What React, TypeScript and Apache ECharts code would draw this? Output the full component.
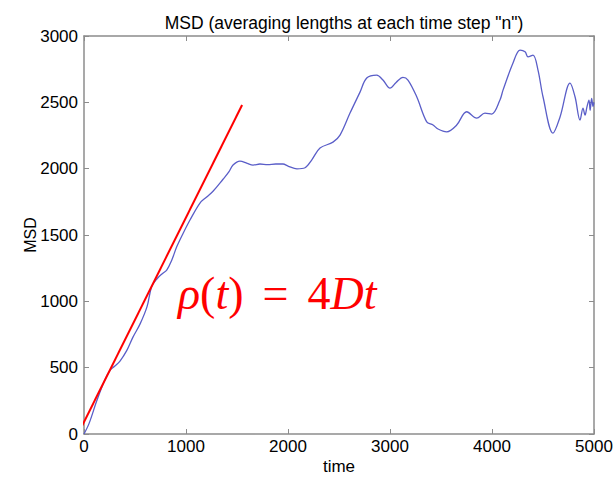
import React, { useEffect, useRef } from "react";
import * as echarts from "echarts";

const titleText = 'MSD (averaging lengths at each time step "n")';
const xTicks = [0, 1000, 2000, 3000, 4000, 5000];
const yTicks = [0, 500, 1000, 1500, 2000, 2500, 3000];

const msdTime = [
  0, 50, 125, 200, 255, 300, 353, 420, 480, 550, 618, 663, 716, 770, 811, 860, 909, 970, 1039, 1137,
  1200, 1265, 1363, 1420, 1461, 1529, 1600, 1657, 1725, 1800, 1880, 1951, 2000, 2088, 2167, 2232,
  2314, 2441, 2510, 2608, 2706, 2772, 2870, 2931, 3000, 3060, 3127, 3176, 3262, 3360, 3422, 3471,
  3556, 3654, 3752, 3850, 3931, 3997, 4078, 4108, 4206, 4275, 4324, 4353, 4402, 4451, 4500, 4598,
  4667, 4765, 4814, 4863, 4892, 4912, 4931, 4951, 4962, 4977, 4990, 5000,
];
const msdValue = [
  0, 80, 250, 400, 480, 510, 550, 630, 730, 830, 960, 1110, 1170, 1210, 1236, 1310, 1411, 1510, 1613, 1741,
  1785, 1830, 1920, 1975, 2027, 2057, 2040, 2027, 2035, 2030, 2035, 2035, 2020, 1999, 2007, 2065,
  2155, 2200, 2253, 2419, 2577, 2683, 2705, 2668, 2607, 2650, 2688, 2668, 2542, 2353, 2329, 2299,
  2278, 2329, 2429, 2381, 2419, 2411, 2517, 2592, 2796, 2894, 2881, 2843, 2856, 2743, 2542, 2268,
  2389, 2645, 2542, 2366, 2457, 2404, 2466, 2517, 2440, 2530, 2470, 2500,
];

const fitTime = [-20, 1550];
const fitValue = [60, 2480];

export default function App() {
  const ref = useRef<HTMLDivElement>(null);
  useEffect(() => {
    if (!ref.current) return;
    const chart = echarts.init(ref.current, null, { renderer: "svg" });
    const axisGray = "#8c8c8c";
    const font = "Liberation Sans, Arial, sans-serif";
    const labelStyle = { color: "#000", fontFamily: font, fontSize: 17 };
    const boxAxis = {
      axisLine: { show: true, onZero: false, lineStyle: { color: axisGray, width: 1.5 } },
      axisTick: { show: true, inside: true, length: 5, lineStyle: { color: axisGray } },
      splitLine: { show: false },
    };
    const serif = "Liberation Serif, Times New Roman, serif";
    chart.setOption({
      animation: false,
      backgroundColor: "#fff",
      title: {
        text: titleText,
        left: 339,
        top: 9,
        textAlign: "center",
        textStyle: { fontFamily: font, fontSize: 17.5, fontWeight: "normal", color: "#000" },
      },
      grid: { left: 84, right: 19, top: 36, bottom: 43, show: false, containLabel: false, outerBoundsMode: "none" },
      xAxis: [
        {
          type: "value",
          min: 0,
          max: 5000,
          interval: 1000,
          name: "time",
          nameLocation: "middle",
          nameGap: 24,
          nameMoveOverlap: false,
          nameTextStyle: { fontFamily: font, fontSize: 17, color: "#000" },
          ...boxAxis,
          axisLabel: { ...labelStyle, margin: 4, formatter: (v: number) => (xTicks.includes(v) ? String(v) : "") },
        },
        {
          type: "value",
          position: "top",
          min: 0,
          max: 5000,
          interval: 1000,
          ...boxAxis,
          axisLabel: { show: false },
        },
      ],
      yAxis: [
        {
          type: "value",
          min: 0,
          max: 3000,
          interval: 500,
          name: "MSD",
          nameLocation: "middle",
          nameGap: 46,
          nameMoveOverlap: false,
          nameTextStyle: { fontFamily: font, fontSize: 16, color: "#000" },
          ...boxAxis,
          axisLabel: { ...labelStyle, margin: 6, formatter: (v: number) => (yTicks.includes(v) ? String(v) : "") },
        },
        {
          type: "value",
          position: "right",
          min: 0,
          max: 3000,
          interval: 500,
          ...boxAxis,
          axisLabel: { show: false },
        },
      ],
      series: [
        {
          type: "line",
          data: msdTime.map((t, i) => [t, msdValue[i]]),
          showSymbol: false,
          smooth: 0.35,
          lineStyle: { color: "#5a5ec8", width: 1.3 },
          z: 2,
        },
        {
          type: "line",
          data: fitTime.map((t, i) => [t, fitValue[i]]),
          showSymbol: false,
          clip: false,
          lineStyle: { color: "#ff0000", width: 2 },
          z: 3,
        },
      ],
      graphic: [
        {
          type: "text",
          left: 178,
          top: 270,
          style: {
            text: "{i|ρ}{n|(}{i|t}{n|)}{s| }{n|=}{s| }{n|4}{i|Dt}",
            rich: {
              i: { fontFamily: serif, fontStyle: "italic", fontSize: 46, fill: "#ff0000" },
              n: { fontFamily: serif, fontSize: 46, fill: "#ff0000" },
              s: { fontFamily: serif, fontSize: 46, width: 19 },
            },
          },
        },
      ],
    });
    return () => chart.dispose();
  }, []);
  return (
    <div
      ref={ref}
      style={{ position: "fixed", left: 0, top: 0, width: 613, height: 477, overflow: "hidden" }}
    />
  );
}
